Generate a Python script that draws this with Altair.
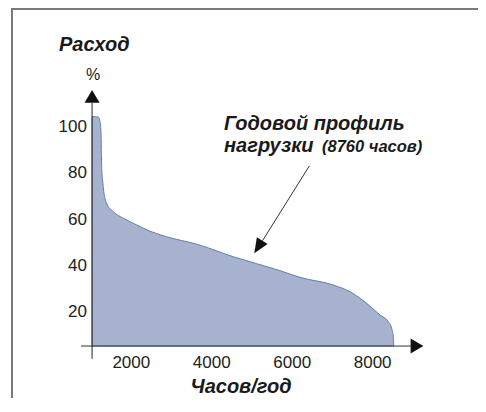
import altair as alt
import pandas as pd

# Load duration curve (hours per year vs. consumption %)
hours = [1025, 1180, 1222, 1247, 1265, 1295, 1322, 1389, 1553, 1801, 2135, 2465,
         2880, 3626, 4536, 5697, 6194, 7022, 7437, 7852, 8182, 8389, 8473, 8513,
         8523]
load = [104.4, 104.2, 102.2, 97.9, 82.0, 75.5, 71.3, 67.0, 63.4, 60.6, 57.7, 55.0,
        52.6, 49.4, 44.0, 38.0, 35.1, 31.8, 28.9, 23.9, 18.9, 16.0, 13.1, 9.5,
        5.5]

x_ticks = [2000, 4000, 6000, 8000]
y_ticks = [20, 40, 60, 80, 100]

baseline = 5.5          # level of the drawn x axis
yaxis_x = 1025          # position of the drawn y axis

FONT = "Liberation Sans, Arial, sans-serif"
XS = alt.Scale(domain=[750, 9500], nice=False, zero=False)
YS = alt.Scale(domain=[-10, 115], nice=False, zero=False)


def X(f="x"):
    return alt.X(f + ":Q", scale=XS, axis=None)


def Y(f="y"):
    return alt.Y(f + ":Q", scale=YS, axis=None)


df = pd.DataFrame({"x": hours, "y": load})

area = alt.Chart(df).mark_area(
    interpolate="monotone", fill="#a7b2cf", stroke="#5f7fb2", strokeWidth=1
).encode(x=X(), y=Y(), y2=alt.datum(baseline))

# axis lines
xaxis = alt.Chart(pd.DataFrame({"x": [750], "x2": [8953], "y": [baseline]})).mark_rule(
    color="#333333", strokeWidth=1
).encode(x=X(), x2="x2:Q", y=Y())
yaxis = alt.Chart(pd.DataFrame({"x": [yaxis_x], "y": [0], "y2": [110.3]})).mark_rule(
    color="#222222", strokeWidth=1
).encode(x=X(), y=Y(), y2="y2:Q")

up_shape = "M0,-0.85L1,0.85L-1,0.85Z"
right_shape = "M0.85,0L-0.85,1L-0.85,-1Z"
arrow_shape = "M0,-1L0.84,1L-0.84,1Z"

up_arrow = alt.Chart(pd.DataFrame({"x": [yaxis_x], "y": [113.1]})).mark_point(
    shape=up_shape, size=225, filled=True, fill="#111111", opacity=1, strokeWidth=0
).encode(x=X(), y=Y())
right_arrow = alt.Chart(pd.DataFrame({"x": [9102], "y": [baseline]})).mark_point(
    shape=right_shape, size=225, filled=True, fill="#111111", opacity=1, strokeWidth=0
).encode(x=X(), y=Y())

# annotation arrow
ann_line = alt.Chart(pd.DataFrame({"x": [6425], "y": [83.1], "x2": [5262], "y2": [50.9]})).mark_rule(
    color="#333333", strokeWidth=1
).encode(x=X(), y=Y(), x2="x2:Q", y2="y2:Q")
ann_head = alt.Chart(pd.DataFrame({"x": [5156], "y": [48.2]})).mark_point(
    shape=arrow_shape, size=225, angle=212, filled=True, fill="#111111", opacity=1, strokeWidth=0
).encode(x=X(), y=Y())

# tick labels
xlab = alt.Chart(pd.DataFrame({"x": x_ticks, "y": [-2] * len(x_ticks),
                               "t": [str(v) for v in x_ticks]})).mark_text(
    font=FONT, fontSize=17, color="#222222", align="center", baseline="middle"
).encode(x=X(), y=Y(), text="t:N")
ylab = alt.Chart(pd.DataFrame({"x": [899] * len(y_ticks), "y": y_ticks,
                               "t": [str(v) for v in y_ticks]})).mark_text(
    font=FONT, fontSize=17, color="#222222", align="right", baseline="middle"
).encode(x=X(), y=Y(), text="t:N")

# titles and annotation text
title_x = [203, 4305, 4305, 4727]
title_y = [132.7, 98.6, 89.3, -14.6]
title_t = ["Расход", "Годовой профиль", "нагрузки", "Часов/год"]
title_a = ["left", "left", "left", "center"]

layers_txt = []
for tx, ty, tt, ta in zip(title_x, title_y, title_t, title_a):
    layers_txt.append(
        alt.Chart(pd.DataFrame({"x": [tx], "y": [ty], "t": [tt]})).mark_text(
            font=FONT, fontSize=20, fontWeight="bold", fontStyle="italic",
            color="#1a1a1a", baseline="alphabetic", align=ta
        ).encode(x=X(), y=Y(), text="t:N")
    )

paren = alt.Chart(pd.DataFrame({"x": [6741], "y": [89.3], "t": ["(8760 часов)"]})).mark_text(
    font=FONT, fontSize=16.5, fontWeight="bold", fontStyle="italic",
    color="#1a1a1a", baseline="alphabetic", align="left"
).encode(x=X(), y=Y(), text="t:N")

pct = alt.Chart(pd.DataFrame({"x": [1048], "y": [122.3], "t": ["%"]})).mark_text(
    font=FONT, fontSize=16, color="#222222", baseline="middle", align="center"
).encode(x=X(), y=Y(), text="t:N")

# decorative frame (top and left edges)
one = pd.DataFrame({"a": [0]})
frame_left = alt.Chart(one).mark_rule(color="#7a7a7a", strokeWidth=2).encode(
    x=alt.value(-69), y=alt.value(-83), y2=alt.value(306))
frame_top = alt.Chart(one).mark_rule(color="#7a7a7a", strokeWidth=2).encode(
    x=alt.value(-70), x2=alt.value(397), y=alt.value(-83))

chart = alt.layer(
    area, xaxis, yaxis, up_arrow, right_arrow, ann_line, ann_head,
    xlab, ylab, *layers_txt, paren, pct, frame_left, frame_top
).properties(
    width=352, height=290,
    autosize=alt.AutoSizeParams(type="none"),
    padding={"left": 73, "top": 84, "right": 45, "bottom": 16},
    background="white",
).configure_view(stroke=None)

chart.save("out.html", embed_options={"renderer": "svg", "actions": False})
